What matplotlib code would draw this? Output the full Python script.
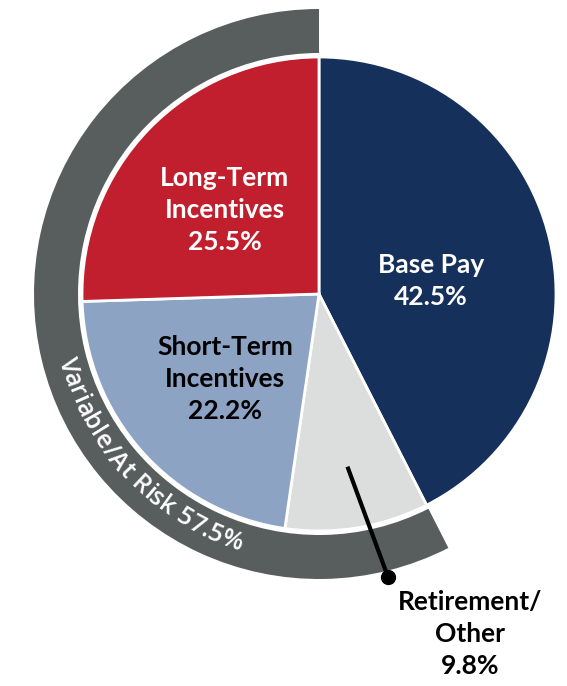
import numpy as np
import matplotlib
matplotlib.use("Agg")
import matplotlib.pyplot as plt

# ---- data ----
categories = ["Base Pay", "Retirement/\nOther", "Short-Term\nIncentives", "Long-Term\nIncentives"]
values = [42.5, 9.8, 22.2, 25.5]
ring_label = "Variable/At Risk"
ring_value = 57.5
fixed_value = 42.5

colors = ["#15305A", "#DCDEDE", "#8CA3C4", "#C21F2E"]
text_colors = ["white", "black", "black", "white"]
ring_color = "#585D5D"

FONT = "Lato"
W, H = 567, 686
fig = plt.figure(figsize=(W / 100, H / 100), dpi=100)
ax = fig.add_axes([0, 0, 1, 1])

cx, cy = 319, H - 294
R = 237
R_out = 285
R_in = 241

# outer ring (variable / at-risk portion)
ax.pie([fixed_value, ring_value], startangle=90, counterclock=False,
       center=(cx, cy), radius=R_out, colors=["none", ring_color],
       wedgeprops=dict(width=R_out - R_in, linewidth=0))

# main pie
wedges, _ = ax.pie(values, startangle=90, counterclock=False,
                   center=(cx, cy), radius=R, colors=colors,
                   wedgeprops=dict(edgecolor="white", linewidth=2))

ax.set_xlim(0, W)
ax.set_ylim(0, H)
ax.set_aspect("equal")
ax.axis("off")

fs = 19
LS = 1.42
def lab(i):
    return f"{categories[i]}\n{values[i]:.1f}%"

# in-slice labels
ax.text(431, H - 281, lab(0), ha="center", va="center", color=text_colors[0],
        fontsize=fs, fontweight="bold", family=FONT, linespacing=LS)
ax.text(225, H - 379, lab(2), ha="center", va="center", color=text_colors[2],
        fontsize=fs, fontweight="bold", family=FONT, linespacing=LS)
ax.text(225, H - 210, lab(3), ha="center", va="center", color=text_colors[3],
        fontsize=fs, fontweight="bold", family=FONT, linespacing=LS)

# retirement label outside with leader
w1 = wedges[1]
mid = np.deg2rad((w1.theta1 + w1.theta2) / 2)
p0 = (cx + 175 * np.cos(mid), cy + 175 * np.sin(mid))
p1 = (388, H - 577)
ax.plot([p0[0], p1[0]], [p0[1], p1[1]], color="black", lw=3, solid_capstyle="butt")
ax.plot([p1[0]], [p1[1]], "o", color="black", ms=10)
ax.text(470, H - 634, lab(1), ha="center", va="center", color="black",
        fontsize=fs, fontweight="bold", family=FONT, linespacing=LS)

# curved ring text
ring_text = f"{ring_label} {ring_value:.1f}%"
fig.canvas.draw()
renderer = fig.canvas.get_renderer()
rfs = 18
RFONT = "Open Sans"
RW = "semibold"

def tw(s):
    t = ax.text(0, 0, s, fontsize=rfs, family=RFONT, fontweight=RW)
    bb = t.get_window_extent(renderer)
    t.remove()
    return bb.width

widths = []
for ch in ring_text:
    if ch == " ":
        widths.append(tw("a a") - tw("aa"))
    else:
        widths.append(tw(ch))
total = sum(widths)
r_txt = (R_out + R_in) / 2 - 1
theta_mid = np.deg2rad(223.5)
theta0 = theta_mid - (total / 2) / r_txt
acc = 0.0
for ch, w in zip(ring_text, widths):
    th = theta0 + (acc + w / 2) / r_txt
    acc += w
    x = cx + r_txt * np.cos(th)
    y = cy + r_txt * np.sin(th)
    ax.text(x, y, ch, fontsize=rfs, family=RFONT, fontweight=RW, color="white",
            rotation=np.rad2deg(th) + 90, rotation_mode="anchor",
            ha="center", va="center")

fig.savefig("out.png", dpi=100)
